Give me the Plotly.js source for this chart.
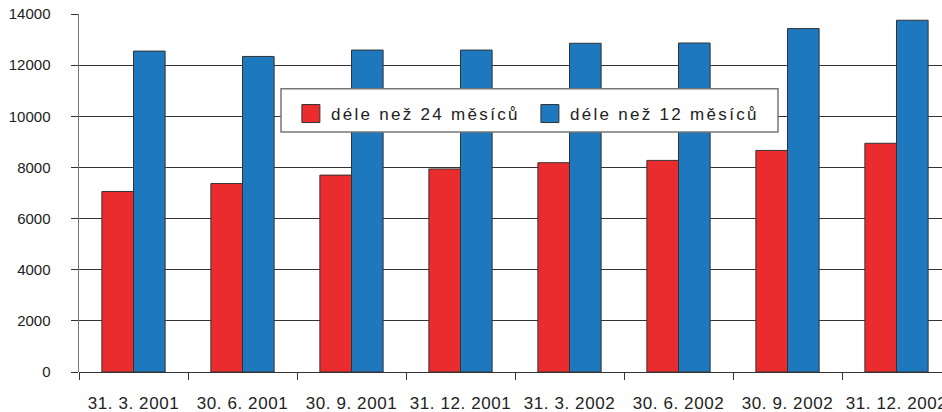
<!DOCTYPE html>
<html>
<head>
<meta charset="utf-8">
<script src="https://cdn.plot.ly/plotly-3.0.1.min.js"></script>
<style>
html,body{margin:0;padding:0;overflow:hidden;background:#fff;}
#chart{width:960px;height:412px;}
.legendtext{letter-spacing:2.3px;}
.xtick text{letter-spacing:0.6px;}
</style>
</head>
<body>
<div id="chart"></div>
<script>
const categories = ['31. 3. 2001','30. 6. 2001','30. 9. 2001','31. 12. 2001','31. 3. 2002','30. 6. 2002','30. 9. 2002','31. 12. 2002'];
const over24 = [7060, 7370, 7700, 7940, 8185, 8275, 8665, 8945];
const over12 = [12550, 12340, 12590, 12590, 12855, 12865, 13430, 13755];
const seriesNames = ['déle než 24 měsíců', 'déle než 12 měsíců'];

const tickFont = {family: 'Liberation Sans, Arial, sans-serif', size: 15, color: '#222'};

const data = [
  {type: 'bar', x: categories, y: over24, name: seriesNames[0],
   marker: {color: '#ea2c2e', line: {color: '#333', width: 1}}},
  {type: 'bar', x: categories, y: over12, name: seriesNames[1],
   marker: {color: '#1e78be', line: {color: '#333', width: 1}}}
];

const layout = {
  width: 960, height: 412,
  margin: {l: 79, r: 9, t: 14, b: 40},
  paper_bgcolor: '#fff', plot_bgcolor: '#fff',
  barmode: 'group', bargap: 0.42, bargroupgap: 0,
  showlegend: true,
  legend: {
    orientation: 'h', x: 0.243, y: 0.771, xanchor: 'left', yanchor: 'top',
    bgcolor: 'rgba(0,0,0,0)', borderwidth: 0,
    font: {family: 'Liberation Sans, Arial, sans-serif', size: 17, color: '#222'},
    entrywidth: 194, entrywidthmode: 'pixels', traceorder: 'normal'
  },
  shapes: [{
    type: 'rect', xref: 'paper', yref: 'paper', layer: 'above',
    x0: (281-79)/872, x1: (778-79)/872, y0: (371.7-132)/357.4, y1: (371.7-89)/357.4,
    fillcolor: '#fff', line: {color: '#777', width: 1.5}
  }],
  xaxis: {
    type: 'category', showgrid: false, showline: false, zeroline: false,
    ticks: 'outside', tickson: 'boundaries', ticklen: 7, tickcolor: '#333', tickwidth: 1,
    ticklabelstandoff: 19, tickfont: Object.assign({}, tickFont, {size: 17}),
    fixedrange: true
  },
  yaxis: {
    range: [0, 14000], dtick: 2000, tick0: 0, tickformat: 'd',
    showgrid: true, gridcolor: '#333', gridwidth: 1,
    zeroline: true, zerolinecolor: '#333', zerolinewidth: 1,
    showline: true, linecolor: '#777', linewidth: 1.5,
    ticks: 'outside', ticklen: 7, tickcolor: '#333',
    ticklabelstandoff: 17, tickfont: tickFont, fixedrange: true
  }
};

Plotly.newPlot('chart', data, layout, {staticPlot: true, displayModeBar: false}).then(function(gd){
  document.querySelectorAll('.legendpoints path').forEach(function(p){
    p.setAttribute('d', 'M9,9H-9V-9H9Z');
    p.style.strokeWidth = '1px';
  });
});
</script>
</body>
</html>
